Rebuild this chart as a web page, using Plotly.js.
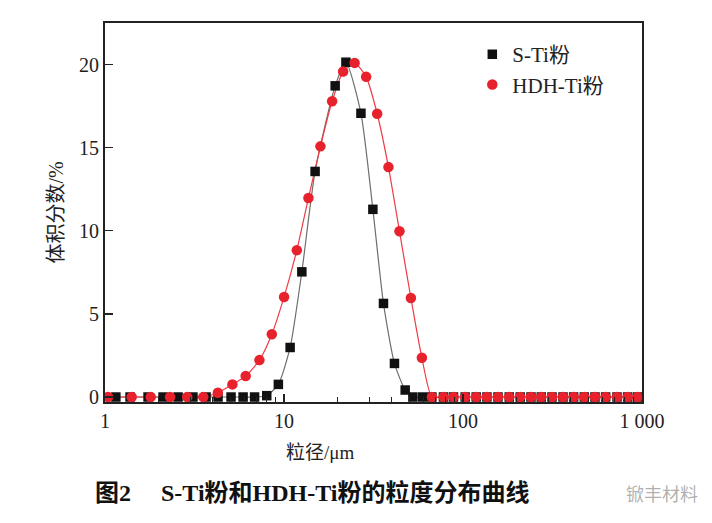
<!DOCTYPE html>
<html>
<head>
<meta charset="utf-8">
<script src="https://cdn.plot.ly/plotly-3.0.1.min.js"></script>
<style>
html,body{margin:0;padding:0;background:#fff;}
#chart{width:712px;height:523px;}
</style>
</head>
<body>
<div id="chart"></div>
<script>
// S-Ti powder (black squares)
const stiSize = [1.15, 1.38, 1.74, 2.11, 2.56, 3.10, 3.67, 4.28, 5.06, 5.91, 6.85, 8.01, 9.30, 10.82, 12.58, 14.92, 19.31, 22.18, 26.91, 31.37, 35.95, 41.41, 47.53, 52.48, 59.54,
  67.0, 77.8, 88.5, 102.8, 118.5, 136.0, 156.8, 181.3, 208.8, 239.7, 273.7, 314.2, 362.0, 415.0, 476.2, 546.2, 626.3, 724.9, 831.1, 944.5];
const stiVol = [0, 0, 0, 0, 0, 0, 0, 0, 0, 0, 0, 0.08, 0.76, 2.98, 7.53, 13.57, 18.72, 20.14, 17.07, 11.29, 5.63, 2.02, 0.42, 0, 0,
  0, 0, 0, 0, 0, 0, 0, 0, 0, 0, 0, 0, 0, 0, 0, 0, 0, 0, 0, 0];

// HDH-Ti powder (red circles)
const hdhSize = [1.04, 1.41, 1.80, 2.31, 2.88, 3.54, 4.27, 5.15, 6.11, 7.29, 8.55, 10.01, 11.79, 13.69, 15.98, 18.57, 21.40, 24.81, 28.77, 33.15, 38.33, 44.17, 51.15, 58.92,
  67.03, 77.8, 88.5, 102.8, 118.5, 136.0, 156.8, 181.3, 208.8, 239.7, 273.7, 314.2, 362.0, 415.0, 476.2, 546.2, 626.3, 724.9, 831.1, 944.5];
const hdhVol = [0, 0, 0, 0, 0, 0, 0.26, 0.76, 1.26, 2.22, 3.78, 6.02, 8.83, 11.97, 15.08, 17.79, 19.58, 20.10, 19.26, 17.04, 13.83, 9.97, 5.96, 2.36,
  0, 0, 0, 0, 0, 0, 0, 0, 0, 0, 0, 0, 0, 0, 0, 0, 0, 0, 0, 0];

const seriesNames = ['S-Ti粉', 'HDH-Ti粉'];
const xTickVals = [1, 10, 100, 1000];
const xTickText = ['1', '10', '100', '1 000'];
const yTickVals = [0, 5, 10, 15, 20];

const serif = 'Liberation Serif, Noto Sans CJK SC, serif';

const traces = [
  {
    x: stiSize, y: stiVol, type: 'scatter', mode: 'lines', showlegend: false,
    line: {color: '#6e6e6e', width: 1.2, shape: 'spline', smoothing: 0.6}
  },
  {
    x: hdhSize, y: hdhVol, type: 'scatter', mode: 'lines', showlegend: false,
    line: {color: '#ee3b48', width: 1.2, shape: 'spline', smoothing: 0.6}
  },
  {
    x: stiSize, y: stiVol, name: seriesNames[0], type: 'scatter', mode: 'markers',
    marker: {symbol: 'square', size: 9.5, color: '#111111'}
  },
  {
    x: hdhSize, y: hdhVol, name: seriesNames[1], type: 'scatter', mode: 'markers',
    marker: {symbol: 'circle', size: 10.5, color: '#e8222c'}
  }
];

const layout = {
  width: 712, height: 523,
  margin: {l: 105, r: 70, t: 23, b: 121},
  paper_bgcolor: '#ffffff', plot_bgcolor: '#ffffff',
  showlegend: true,
  legend: {
    x: 0.684, y: 0.971, xanchor: 'left', yanchor: 'top',
    bgcolor: 'rgba(0,0,0,0)', borderwidth: 0,
    font: {family: serif, size: 21, color: '#222'},
    tracegroupgap: 0
  },
  xaxis: {
    type: 'log', range: [0, 3],
    tickvals: xTickVals, ticktext: xTickText,
    ticks: 'inside', ticklen: 8, tickwidth: 1.3, tickcolor: '#222',
    minor: {ticks: 'inside', ticklen: 5, tickwidth: 1.2, tickcolor: '#222', dtick: 'D1', showgrid: false},
    showline: true, linecolor: '#222', linewidth: 2, mirror: true,
    showgrid: false, zeroline: false,
    tickfont: {family: serif, size: 20, color: '#222'}
  },
  yaxis: {
    range: [-0.3, 22.5],
    tickvals: yTickVals,
    ticks: 'inside', ticklen: 8, tickwidth: 1.3, tickcolor: '#222',
    showline: true, linecolor: '#222', linewidth: 2, mirror: true,
    showgrid: false, zeroline: false,
    tickfont: {family: serif, size: 20, color: '#222'},
    title: {text: '体积分数/%', font: {family: serif, size: 20, color: '#222'}, standoff: 10}
  },
  annotations: [
    {text: '粒径/μm', xref: 'paper', yref: 'paper', x: (320 - 105) / 536.7, y: -(452 - 402) / 379,
      xanchor: 'center', yanchor: 'middle', showarrow: false,
      font: {family: serif, size: 19, color: '#222'}},
    {text: '<b>图2　 S-Ti粉和HDH-Ti粉的粒度分布曲线</b>', xref: 'paper', yref: 'paper',
      x: (93 - 105) / 536.7, y: -(493 - 402) / 379, xanchor: 'left', yanchor: 'middle', showarrow: false,
      font: {family: serif, size: 24, color: '#111'}},
    {text: '锨丰材料', xref: 'paper', yref: 'paper',
      x: (700 - 105) / 536.7, y: -(493 - 402) / 379, xanchor: 'right', yanchor: 'middle', showarrow: false,
      font: {family: 'Noto Sans CJK SC, sans-serif', size: 18, color: 'rgba(150,150,150,0.75)'}}
  ]
};

Plotly.newPlot('chart', traces, layout, {displayModeBar: false, staticPlot: true});
</script>
</body>
</html>
